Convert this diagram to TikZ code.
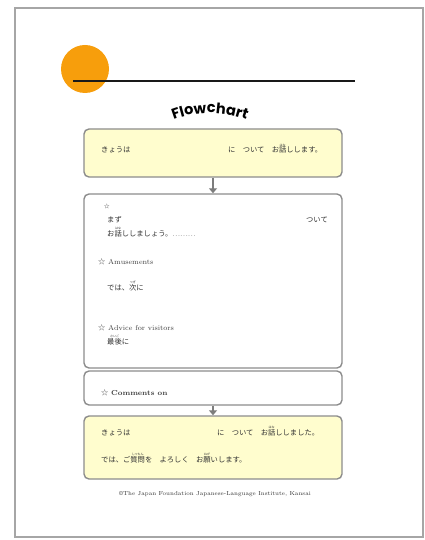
\documentclass[tikz,border=0pt]{standalone}
\usepackage{fontspec}
\newfontfamily\jp{Noto Sans CJK JP}
\newfontfamily\titlefont{Poppins}
\usetikzlibrary{arrows.meta,decorations.text}
\definecolor{yel}{RGB}{255,253,206}
\definecolor{orng}{RGB}{247,158,12}
\definecolor{boxline}{RGB}{140,140,140}
\definecolor{arrgray}{RGB}{125,125,125}
\newsavebox\rbbox
\newcommand\rb[2]{\sbox\rbbox{#1}\rlap{\raisebox{6.9pt}[0pt][0pt]{\makebox[\wd\rbbox]{\fontsize{3}{3}\selectfont #2}}}\usebox\rbbox}
\begin{document}
\begin{tikzpicture}[x=1pt,y=-1pt,
  box/.style={draw=boxline, line width=1.4pt, rounded corners=5pt, minimum width=258pt, inner sep=0pt},
  arr/.style={draw=arrgray, line width=2.6pt, -{Triangle[width=8pt,length=5pt]}},
  jt/.style={anchor=base west, inner sep=0pt, font=\jp\fontsize{7.3}{8}\selectfont, text=black!80},
  lt/.style={anchor=base west, inner sep=0pt, font=\fontsize{7.2}{8}\selectfont, text=black!75},
  ct/.style={anchor=base, inner sep=0pt, font=\fontsize{5.8}{7}\selectfont, text=black!80}]
\useasboundingbox (0,0) rectangle (425,540);
\draw[gray!70, line width=1.4pt] (15,8) rectangle (423,537);
\fill[orng] (85,69) circle (24);
\draw[line width=2.6pt, black!90] (73,81) -- (355,81);
\begin{scope}[y=1pt]
\path[decorate, decoration={text along path, text align=center,
  text={|\titlefont\bfseries\fontsize{14.5}{15}\selectfont|Flowchart}}]
  (210,-215) ++(116:102) arc[start angle=116, end angle=64, radius=102];
\end{scope}
\node[box, fill=yel, minimum height=48pt] (b1) at (213,153) {};
\node[box, fill=white, minimum height=174pt] (b2) at (213,281) {};
\node[box, fill=white, minimum height=34pt] (b3) at (213,388) {};
\node[box, fill=yel, minimum height=63pt] (b4) at (213,447.5) {};
\draw[arr] (b1) -- (b2);
\draw[arr] (b3) -- (b4);
\node[jt] (t1a) at (101,153) {きょうは};
\node[jt] (t1b) at (228,153) {に　ついて　お\rb{話}{はな}しします。};
\node[jt, font=\jp\fontsize{5.5}{6}\selectfont] (s0) at (104,208) {☆};
\node[jt] (t2a) at (107,222) {まず};
\node[jt, anchor=base east] (t2b) at (328,222) {ついて};
\node[jt] (t2c) at (107,236) {お\rb{話}{はな}ししましょう。\textcolor{gray}{………}};
\node[lt] (h1) at (98,264) {{\jp ☆} Amusements};
\node[jt] (t2d) at (107,290) {では、\rb{次}{つぎ}に};
\node[lt] (h2) at (98,330) {{\jp ☆} Advice for visitors};
\node[jt] (t2e) at (107,344) {\rb{最後}{さいご}に};
\node[lt] (h3) at (101,395) {{\jp ☆} \textbf{Comments on}};
\node[jt] (t4a) at (101,435) {きょうは};
\node[jt] (t4b) at (217,435) {に　ついて　お\rb{話}{はな}ししました。};
\node[jt] (t4c) at (101,462) {では、ご\rb{質問}{しつもん}を　よろしく　お\rb{願}{ねが}いします。};
\node[ct] (cp) at (215,495) {\copyright The Japan Foundation Japanese-Language Institute, Kansai};
\end{tikzpicture}
\end{document}
